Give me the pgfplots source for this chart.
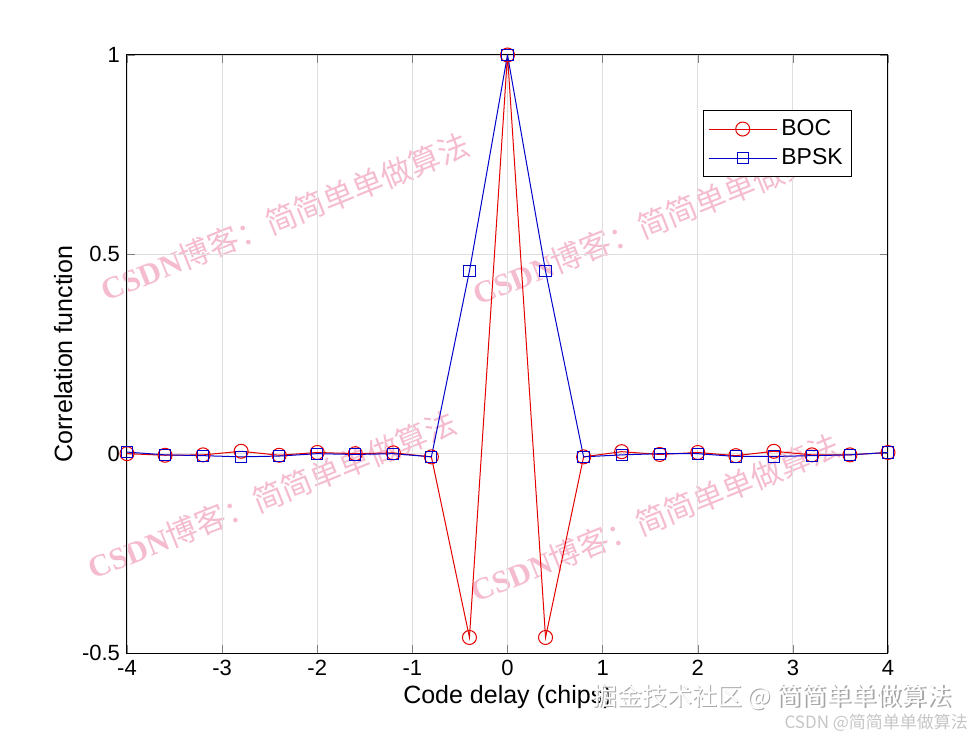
\documentclass[border=0pt]{standalone}
\usepackage{pgfplots}
\pgfplotsset{compat=1.18}
\usepackage{fontspec}
\setmainfont{Liberation Sans}
\newfontfamily\cjk{Noto Sans CJK SC}
\newfontfamily\wmserif{Liberation Serif}
\definecolor{wmpink}{RGB}{245,188,208}
\pgfplotstableread{
x boc bpsk
-4.0 0.000 0.004
-3.6 -0.004 -0.003
-3.2 -0.003 -0.005
-2.8 0.006 -0.008
-2.4 -0.004 -0.006
-2.0 0.003 0.000
-1.6 0.000 -0.002
-1.2 0.002 0.000
-0.8 -0.008 -0.008
-0.4 -0.461 0.458
0.0 1.000 1.000
0.4 -0.461 0.458
0.8 -0.008 -0.008
1.2 0.005 -0.003
1.6 -0.002 0.000
2.0 0.003 0.000
2.4 -0.005 -0.007
2.8 0.006 -0.007
3.2 -0.003 -0.005
3.6 -0.003 -0.003
4.0 0.003 0.003
}\datatable
\newcommand{\wm}{{\wmserif\bfseries CSDN}{\cjk 博客：简简单单做算法}}
\begin{document}
\begin{tikzpicture}
\useasboundingbox (-63.5pt,-41pt) rectangle (426.5pt,326.5pt);
% watermarks (under the chart)
\begin{scope}[every node/.style={font=\fontsize{15.5}{16}\selectfont, text=wmpink, rotate=22}]
\node at (79pt,218pt) {\wm};
\node at (265pt,216pt) {\wm};
\node at (72.5pt,79pt) {\wm};
\node at (264pt,67.5pt) {\wm};
\end{scope}
\begin{axis}[
  at={(0,0)}, anchor=south west,
  width=380.5pt, height=299pt, scale only axis,
  xmin=-4, xmax=4, ymin=-0.5, ymax=1,
  xtick={-4,-3,...,4}, ytick={-0.5,0,0.5,1},
  yticklabels={-0.5,0,0.5,1},
  xticklabels={-4,-3,-2,-1,0,1,2,3,4},
  tick align=inside, tick pos=both,
  major tick length=4pt,
  grid=major, major grid style={gray!25, line width=0.4pt},
  axis line style={line width=0.5pt},
  ticklabel style={font=\fontsize{11}{13}\selectfont},
  xlabel={Code delay (chips)}, ylabel={Correlation function},
  label style={font=\fontsize{12.5}{15}\selectfont},
  xlabel style={yshift=2pt},
  ylabel style={yshift=-2pt},
  legend style={at={(axis description cs:0.953,0.908)}, anchor=north east,
    font=\fontsize{11.5}{14}\selectfont, draw=black, line width=0.5pt,
    fill=white, row sep=1pt, inner sep=2.5pt},
  legend cell align=left,
  legend image code/.code={
    \draw[mark repeat=2,mark phase=2,#1] plot coordinates {(0cm,0cm) (0.6cm,0cm) (1.2cm,0cm)};
  },
]
\addplot[red!90!black, line width=0.5pt, mark=o, mark size=3.5pt, mark options={solid, line width=0.5pt}] table[x=x,y=boc] {\datatable};
\addlegendentry{BOC}
\addplot[blue!80!black, line width=0.5pt, mark=square, mark size=2.8pt, mark options={solid, line width=0.5pt}] table[x=x,y=bpsk] {\datatable};
\addlegendentry{BPSK}
\end{axis}
\node[font=\cjk\fontsize{12.5}{13}\selectfont, text=gray!70, anchor=east] at (416.6pt,-22.6pt) {掘金技术社区 @ 简简单单做算法};
\node[font=\cjk\fontsize{12.5}{13}\selectfont, text=white, anchor=east] at (416pt,-22pt) {掘金技术社区 @ 简简单单做算法};
\node[font=\cjk\fontsize{8.5}{9}\selectfont, text=gray!45, anchor=east] at (424pt,-35pt) {CSDN @简简单单做算法};
\end{tikzpicture}
\end{document}
